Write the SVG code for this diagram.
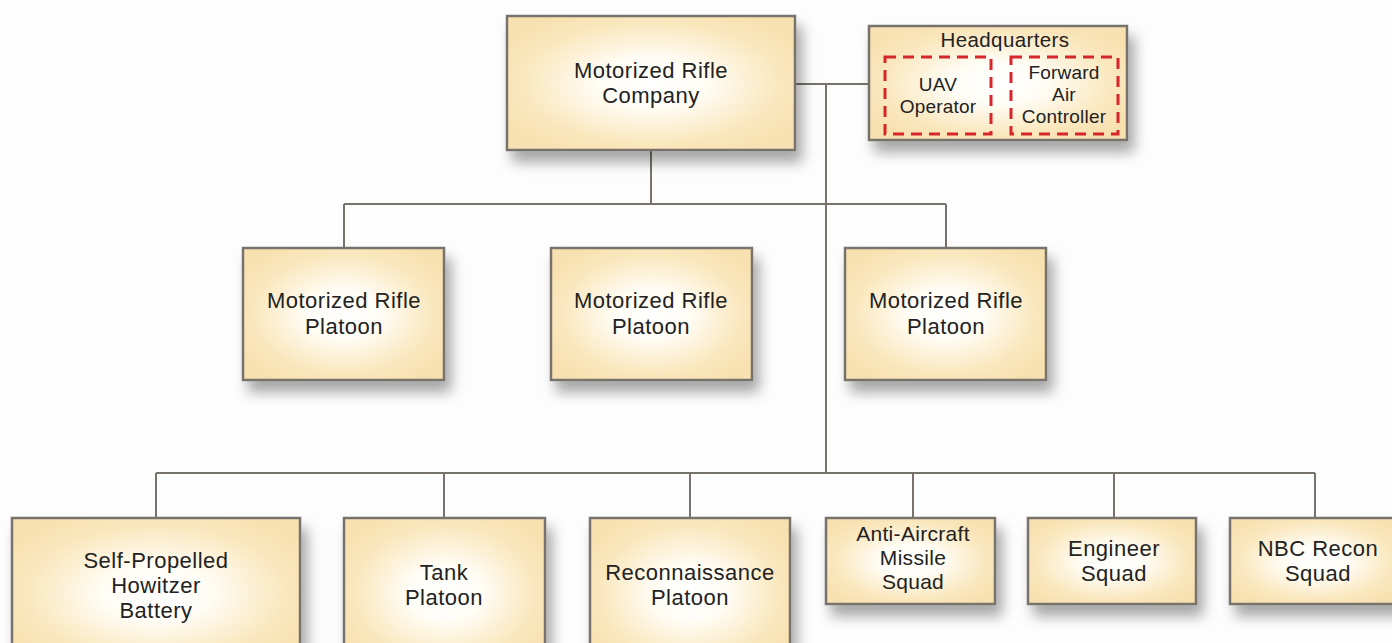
<svg xmlns="http://www.w3.org/2000/svg" width="1392" height="643" viewBox="0 0 1392 643">
<style>
.box{fill:url(#glow);stroke:#77736c;stroke-width:2.5;filter:url(#sh)}
.dash{fill:none;stroke:#d7262b;stroke-width:3;stroke-dasharray:11,7}
.t{font-family:"Liberation Sans",Arial,sans-serif;font-size:22px;fill:#222;text-anchor:middle;letter-spacing:0.5px}
.s{font-size:19px;letter-spacing:0.2px}
.m{font-size:21px;letter-spacing:0.3px}
.c{stroke:#77736c;stroke-width:2;fill:none}
</style>
<defs>
<radialGradient id="glow" cx="0.5" cy="0.5" r="0.6">
<stop offset="0" stop-color="#ffffff"/>
<stop offset="0.3" stop-color="#fffdf6"/>
<stop offset="0.75" stop-color="#fae7bd"/>
<stop offset="1" stop-color="#f8e1b0"/>
</radialGradient>
<filter id="sh" x="-20%" y="-20%" width="150%" height="160%">
<feGaussianBlur in="SourceAlpha" stdDeviation="7"/>
<feOffset dx="6" dy="11" result="b"/>
<feComponentTransfer><feFuncA type="linear" slope="0.35"/></feComponentTransfer>
<feMerge><feMergeNode/><feMergeNode in="SourceGraphic"/></feMerge>
</filter>
</defs>
<rect width="1392" height="643" fill="#fdfdfd"/>
<g id="connectors" class="c">
<path d="M795 84H869"/>
<path d="M826 84V473"/>
<path d="M651 150V204"/>
<path d="M344 204H946"/>
<path d="M344 204V248M946 204V248"/>
<path d="M156 473H1315"/>
<path d="M156 473V518M444 473V518M690 473V518M913 473V518M1114 473V518M1315 473V518"/>
</g>
<g id="company"><rect class="box" x="507" y="16" width="288" height="134"/>
<text class="t" x="651" y="78">Motorized Rifle</text><text class="t" x="651" y="103">Company</text></g>
<g id="hq"><rect class="box" x="869" y="26" width="258" height="114"/>
<text class="t" x="1005" y="47" style="font-size:20.5px;letter-spacing:0.4px">Headquarters</text>
<rect class="dash" x="885" y="57" width="106" height="77"/>
<text class="t s" x="938" y="91">UAV</text><text class="t s" x="938" y="113">Operator</text>
<rect class="dash" x="1011" y="57" width="107" height="77"/>
<text class="t s" x="1064" y="79">Forward</text><text class="t s" x="1064" y="101">Air</text><text class="t s" x="1064" y="123">Controller</text></g>
<g id="platoon1"><rect class="box" x="243" y="248" width="201" height="132"/>
<text class="t" x="344" y="308">Motorized Rifle</text><text class="t" x="344" y="334">Platoon</text></g>
<g id="platoon2"><rect class="box" x="551" y="248" width="201" height="132"/>
<text class="t" x="651" y="308">Motorized Rifle</text><text class="t" x="651" y="334">Platoon</text></g>
<g id="platoon3"><rect class="box" x="845" y="248" width="201" height="132"/>
<text class="t" x="946" y="308">Motorized Rifle</text><text class="t" x="946" y="334">Platoon</text></g>
<g id="howitzer"><rect class="box" x="12" y="518" width="288" height="150"/>
<text class="t" x="156" y="568">Self-Propelled</text><text class="t" x="156" y="593">Howitzer</text><text class="t" x="156" y="618">Battery</text></g>
<g id="tank"><rect class="box" x="344" y="518" width="201" height="150"/>
<text class="t" x="444" y="580">Tank</text><text class="t" x="444" y="605">Platoon</text></g>
<g id="recon"><rect class="box" x="590" y="518" width="200" height="150"/>
<text class="t" x="690" y="580">Reconnaissance</text><text class="t" x="690" y="605">Platoon</text></g>
<g id="antiair"><rect class="box" x="826" y="518" width="169" height="86"/>
<text class="t m" x="913" y="541">Anti-Aircraft</text><text class="t m" x="913" y="565">Missile</text><text class="t m" x="913" y="589">Squad</text></g>
<g id="engineer"><rect class="box" x="1028" y="518" width="168" height="86"/>
<text class="t" x="1114" y="556">Engineer</text><text class="t" x="1114" y="581">Squad</text></g>
<g id="nbc"><rect class="box" x="1230" y="518" width="172" height="86"/>
<text class="t" x="1318" y="556">NBC Recon</text><text class="t" x="1318" y="581">Squad</text></g>
</svg>
